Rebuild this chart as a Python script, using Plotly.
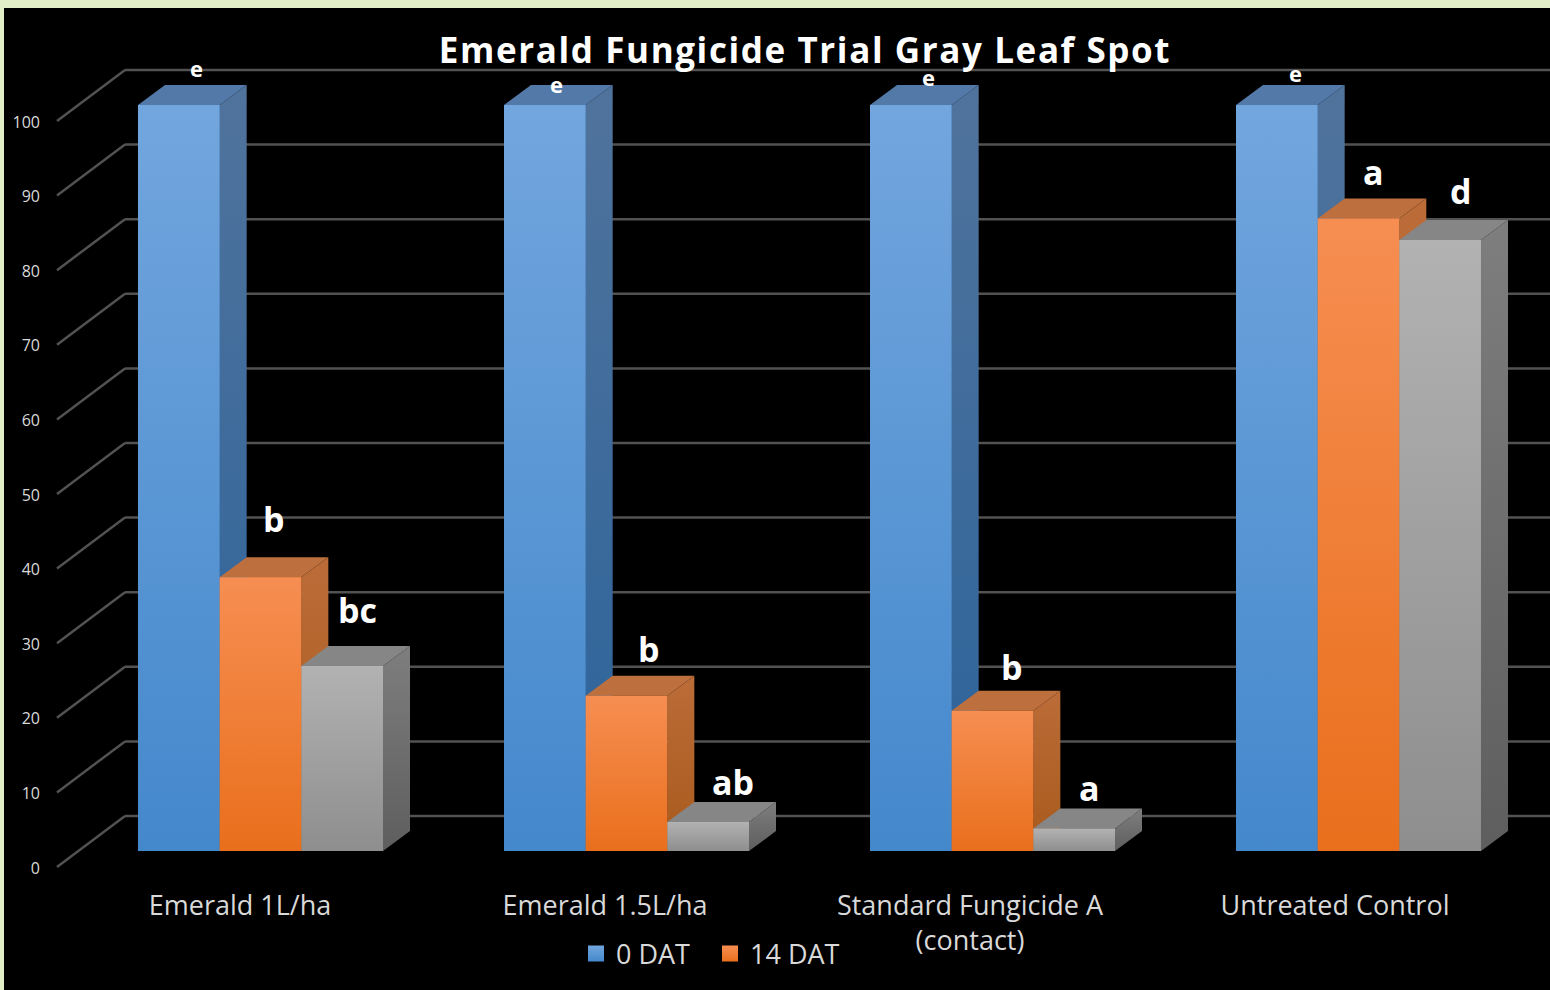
import plotly.graph_objects as go

# ---- data ----
categories = ["Emerald 1L/ha", "Emerald 1.5L/ha", "Standard Fungicide A<br>(contact)", "Untreated Control"]
dat_0 = [100, 100, 100, 100]
dat_14 = [36.7, 20.8, 18.8, 84.8]
dat_third = [24.8, 3.9, 3.0, 81.9]
tick_values = [0, 10, 20, 30, 40, 50, 60, 70, 80, 90, 100]
letters = ["e", "e", "e", "e", "b", "bc", "b", "ab", "b", "a", "a", "d"]
series_names = ["0 DAT", "14 DAT", "Series3"]

# ---- geometry: scale of the axes and the fake depth, all in data units ----
PX_X = 366.0
PX_Y = 7.46
X0_PX = 260.5
Y0_PX = 851.0
W, H = 1550, 990
L, T = 4, 8
x_range = [(L - X0_PX) / PX_X, (W - X0_PX) / PX_X]
y_range = [(Y0_PX - H) / PX_Y, (Y0_PX - T) / PX_Y]
BW = 81.67 / PX_X
DX = 27 / PX_X
DY = 20 / PX_Y
WALL_X_BACK = (125 - X0_PX) / PX_X
WALL_X_FRONT = (57 - X0_PX) / PX_X
WALL_Y_BACK = 35 / PX_Y
WALL_Y_FRONT = -16 / PX_Y

styles = [
    dict(front=("#4488cc", "#72a6de"), side=("#2b639b", "#50739c"), top="#5379a8"),
    dict(front=("#e96f1c", "#f68e52"), side=("#a85a1c", "#bb6c38"), top="#bd6f3d"),
    dict(front=("#8e8e8e", "#b2b2b2"), side=("#5e5e5e", "#7e7e7e"), top="#868686"),
]
all_series = [dat_0, dat_14, dat_third]

fig = go.Figure()

# bars through the library's own grouped bars
for name, vals, st in zip(series_names, all_series, styles):
    fig.add_bar(x=list(range(4)), y=vals, name=name, width=BW,
                marker=dict(color=st["front"][0], line_width=0),
                showlegend=False, hoverinfo="skip")


def poly(xs, ys, **kw):
    fig.add_scatter(x=xs + xs[:1], y=ys + ys[:1], mode="lines", line=dict(width=0),
                    fill="toself", showlegend=False, hoverinfo="skip", **kw)


# shading faces of each bar, painter's order
for g in range(4):
    for j, (vals, st) in enumerate(zip(all_series, styles)):
        v = vals[g]
        a = g + (j - 1.5) * BW
        b = a + BW
        poly([b, b + DX, b + DX, b], [0, DY, v + DY, v],
             fillgradient=dict(type="vertical", start=0, stop=v + DY,
                               colorscale=[[0, st["side"][0]], [1, st["side"][1]]]))
        poly([a, b, b + DX, a + DX], [v, v, v + DY, v + DY], fillcolor=st["top"])
        poly([a, b, b, a], [0, 0, v, v],
             fillgradient=dict(type="vertical", start=0, stop=v,
                               colorscale=[[0, st["front"][0]], [1, st["front"][1]]]))

# legend entries
for name, st in zip(series_names[:2], styles[:2]):
    fig.add_scatter(x=[None], y=[None], name=name, mode="markers", hoverinfo="skip",
                    marker=dict(symbol="square", size=16, color=st["front"][1],
                                gradient=dict(type="vertical", color=st["front"][0])))

# carrier of the shifted tick-label axes
fig.add_scatter(x=[0, 1, 2, 3], y=[0, 0, 0, 0], xaxis="x2", yaxis="y2", mode="markers",
                marker=dict(opacity=0), showlegend=False, hoverinfo="skip")

# 3-D wall grid
shapes = []
for t in tick_values:
    line = dict(color="#525252", width=2.5)
    shapes.append(dict(type="line", xref="x", yref="y", layer="below", line=line,
                       x0=WALL_X_FRONT, y0=t + WALL_Y_FRONT, x1=WALL_X_BACK, y1=t + WALL_Y_BACK))
    shapes.append(dict(type="line", xref="x", yref="y", layer="below", line=line,
                       x0=WALL_X_BACK, y0=t + WALL_Y_BACK, x1=x_range[1], y1=t + WALL_Y_BACK))

# significance letters
letter_x = [-0.176, 0.810, 1.824, 2.829, 0.037, 0.264, 1.061, 1.291, 2.053, 2.266, 3.042, 3.280]
letter_y = [105.0, 102.8, 103.7, 104.3, 44.55, 32.35, 27.05, 9.25, 24.65, 8.4, 91.05, 88.5]
annotations = [
    dict(x=x, y=y, xref="x", yref="y", text=t, showarrow=False, xanchor="center", yanchor="middle",
         font=dict(family="Open Sans", color="white", weight="bold", size=22 if t == "e" else 34))
    for t, x, y in zip(letters, letter_x, letter_y)
]

fig.update_layout(
    width=W, height=H, margin=dict(l=L, r=0, t=T, b=0, pad=0),
    paper_bgcolor="#e2eec8", plot_bgcolor="black",
    barmode="group", bargap=1 - 3 * BW, bargroupgap=0,
    font=dict(family="Open Sans", color="#d9d9d9", size=25),
    title=dict(text="Emerald Fungicide Trial Gray Leaf Spot", x=805 / W, y=1 - 51 / H,
               xanchor="center", yanchor="middle",
               font=dict(family="Open Sans", size=35, weight="bold", color="white")),
    xaxis=dict(range=x_range, showgrid=False, zeroline=False, showticklabels=False,
               showline=False, ticks="", domain=[0, 1]),
    yaxis=dict(range=y_range, showgrid=False, zeroline=False, showticklabels=False,
               showline=False, ticks="", domain=[0, 1]),
    xaxis2=dict(overlaying="x", anchor="free", position=(H - 887) / (H - T),
                range=[(L - 240) / 365, (W - 240) / 365],
                tickmode="array", tickvals=list(range(4)), ticktext=categories,
                showgrid=False, zeroline=False, showline=False, ticks="", side="bottom",
                tickfont=dict(family="Open Sans", size=27, color="#d9d9d9"), ticklabelstandoff=0),
    yaxis2=dict(overlaying="y", anchor="free", position=(40 - L) / (W - L),
                range=[(868 - H) / PX_Y, (868 - T) / PX_Y],
                tickmode="array", tickvals=tick_values,
                showgrid=False, zeroline=False, showline=False, ticks="", side="left",
                tickfont=dict(family="Open Sans", size=16, color="#d9d9d9")),
    legend=dict(orientation="h", x=(576 - L) / (W - L), y=(H - 954) / (H - T),
                xanchor="left", yanchor="middle", bgcolor="rgba(0,0,0,0)",
                entrywidth=89, entrywidthmode="pixels",
                font=dict(family="Open Sans", size=27, color="#d9d9d9")),
    shapes=shapes, annotations=annotations,
)

fig.write_html("out.html", config={"displayModeBar": False},
               post_script="document.body.style.margin='0';document.documentElement.style.overflow='hidden';"
                           "document.querySelectorAll('.gtitle').forEach(function(t){t.style.letterSpacing='1.6px';});")
